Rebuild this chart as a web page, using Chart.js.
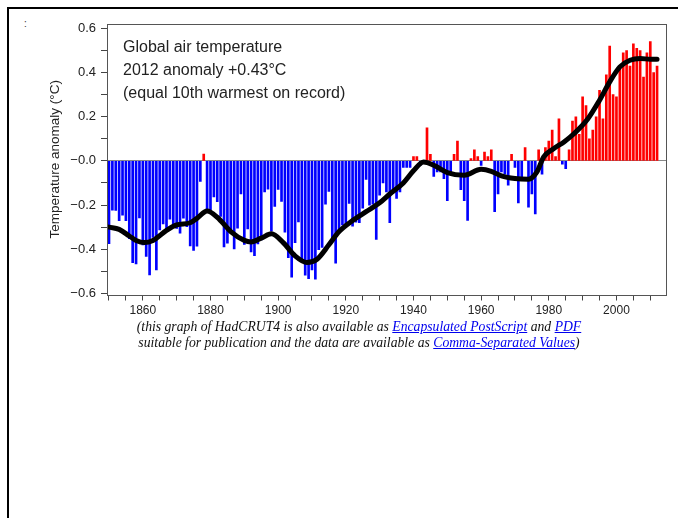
<!DOCTYPE html>
<html>
<head>
<meta charset="utf-8">
<script src="https://cdn.jsdelivr.net/npm/chart.js@4.4.0/dist/chart.umd.min.js"></script>
<style>
  body { margin: 0; background: #fff; width: 678px; height: 518px; position: relative; overflow: hidden; }
  .frame { position: absolute; left: 7px; top: 7px; right: -10px; bottom: -10px; border-top: 2px solid #000; border-left: 2px solid #000; }
  .colon { position: absolute; left: 24px; top: 18px; font: 10px "Liberation Sans", Arial, sans-serif; color: #333; }
  #chart { position: absolute; left: 0; top: 0; }
  .caption { position: absolute; left: 108px; width: 502px; top: 319px; text-align: center;
    font: italic 13.7px/16px "Liberation Serif", "Times New Roman", serif; color: #111; }
  .caption a { color: #0000ee; text-decoration: underline; }
</style>
</head>
<body>
<div class="frame"></div>
<div class="colon">:</div>
<canvas id="chart" width="678" height="320"></canvas>
<div class="caption">(this graph of HadCRUT4 is also available as <a href="#">Encapsulated PostScript</a> and <a href="#">PDF</a><br>suitable for publication and the data are available as <a href="#">Comma-Separated Values</a>)</div>
<script>
// annual anomalies 1850..2012 (degC, vs 1961-90)
const firstYear = 1850;
const anomalies = [
  -0.375, -0.223, -0.224, -0.271, -0.246, -0.271, -0.352, -0.461, -0.466, -0.258,
  -0.380, -0.433, -0.516, -0.346, -0.494, -0.313, -0.285, -0.320, -0.264, -0.290,
  -0.306, -0.327, -0.259, -0.298, -0.385, -0.405, -0.386, -0.093, 0.031, -0.224,
  -0.235, -0.163, -0.185, -0.251, -0.390, -0.372, -0.317, -0.399, -0.305, -0.149,
  -0.378, -0.308, -0.412, -0.429, -0.376, -0.358, -0.141, -0.128, -0.318, -0.206,
  -0.129, -0.183, -0.323, -0.438, -0.527, -0.370, -0.276, -0.451, -0.517, -0.533,
  -0.494, -0.536, -0.402, -0.392, -0.196, -0.138, -0.361, -0.463, -0.326, -0.290,
  -0.285, -0.193, -0.296, -0.278, -0.280, -0.214, -0.084, -0.200, -0.196, -0.355,
  -0.155, -0.100, -0.140, -0.280, -0.130, -0.170, -0.140, -0.030, -0.030, -0.030,
  0.020, 0.020, -0.020, -0.010, 0.150, 0.030, -0.070, -0.050, -0.050, -0.080,
  -0.180, -0.060, 0.030, 0.090, -0.130, -0.180, -0.270, 0.010, 0.050, 0.020,
  -0.020, 0.040, 0.020, 0.050, -0.230, -0.150, -0.050, -0.060, -0.110, 0.030,
  -0.030, -0.190, -0.080, 0.060, -0.210, -0.150, -0.240, 0.050, -0.060, 0.060,
  0.090, 0.140, 0.020, 0.190, -0.015, -0.035, 0.050, 0.180, 0.200, 0.120,
  0.290, 0.250, 0.100, 0.140, 0.200, 0.320, 0.190, 0.390, 0.520, 0.300,
  0.290, 0.430, 0.490, 0.500, 0.430, 0.530, 0.510, 0.500, 0.380, 0.490,
  0.540, 0.400, 0.430
];

// smoothed curve
const smoothYears = [1850, 1853, 1856, 1858, 1860.5, 1863, 1867, 1870, 1874, 1876, 1879, 1882, 1886, 1890,
  1892, 1895, 1898, 1901.5, 1905, 1908.5, 1911.5, 1915, 1918, 1922, 1926, 1930, 1933, 1937, 1940, 1943,
  1946, 1950, 1955, 1960, 1963, 1966, 1970, 1974, 1976.5, 1978.5, 1981.5, 1984.5, 1987.5, 1991.5, 1995,
  1998, 2001, 2004, 2007, 2010, 2012];
const smoothValues = [-0.30, -0.31, -0.34, -0.36, -0.37, -0.36, -0.315, -0.29, -0.28, -0.26, -0.227, -0.255, -0.32, -0.36,
  -0.367, -0.35, -0.33, -0.37, -0.43, -0.46, -0.445, -0.38, -0.32, -0.27, -0.23, -0.19, -0.15, -0.10, -0.045, -0.005,
  -0.02, -0.053, -0.065, -0.038, -0.047, -0.068, -0.08, -0.083, -0.05, 0.018, 0.056, 0.086, 0.124, 0.19, 0.275,
  0.358, 0.426, 0.456, 0.464, 0.46, 0.46];

const yTicks = { min: -0.605, max: 0.62, step: 0.1 };
const xTicks = { min: 1849.41, max: 2014.94, step: 5 };
const noteLines = ['Global air temperature', '2012 anomaly +0.43\u00b0C', '(equal 10th warmest on record)'];

const barPoints = anomalies.map((v, i) => ({ x: firstYear + i, y: v }));
const linePoints = smoothYears.map((yr, i) => ({ x: yr, y: smoothValues[i] }));

const sans = '"Liberation Sans", Arial, Helvetica, sans-serif';

const framePlugin = {
  id: 'frameAndNote',
  afterDatasetsDraw(chart) {
    const { ctx, chartArea: a } = chart;
    ctx.save();
    ctx.strokeStyle = '#555';
    ctx.lineWidth = 1;
    ctx.strokeRect(Math.round(a.left) + 0.5, Math.round(a.top) + 0.5,
      Math.round(a.right - a.left) - 1, Math.round(a.bottom - a.top));
    ctx.fillStyle = '#222';
    ctx.font = '16px ' + sans;
    ctx.textBaseline = 'alphabetic';
    noteLines.forEach((t, i) => ctx.fillText(t, 123, 52 + i * 23));
    ctx.restore();
  }
};

new Chart(document.getElementById('chart'), {
  type: 'bar',
  data: {
    datasets: [{
      type: 'line',
      data: linePoints,
      borderColor: '#000',
      borderWidth: 5,
      pointRadius: 0,
      cubicInterpolationMode: 'monotone',
      borderCapStyle: 'round',
      borderJoinStyle: 'round',
      order: 0
    }, {
      type: 'bar',
      data: barPoints,
      backgroundColor: barPoints.map(p => p.y > 0 ? '#ff0000' : '#0000ff'),
      barThickness: 2,
      order: 1
    }]
  },
  options: {
    responsive: false,
    animation: false,
    devicePixelRatio: 1,
    layout: { padding: { left: 0, top: 24, right: 11, bottom: 0 } },
    plugins: { legend: { display: false }, tooltip: { enabled: false } },
    scales: {
      x: {
        type: 'linear',
        offset: false,
        min: xTicks.min,
        max: xTicks.max,
        afterFit(s) { s.height = 25.5; },
        border: { display: false },
        grid: { offset: false, drawOnChartArea: false, tickLength: 6, color: '#444', lineWidth: 1 },
        ticks: {
          stepSize: xTicks.step,
          includeBounds: false,
          autoSkip: false,
          maxRotation: 0,
          padding: 3,
          color: '#222',
          font: { family: sans, size: 12 },
          callback: v => Math.round(v) % 20 === 0 ? String(Math.round(v)) : ''
        }
      },
      y: {
        min: yTicks.min,
        max: yTicks.max,
        afterFit(s) { s.width = 107; },
        border: { display: false },
        grid: {
          drawOnChartArea: true,
          tickLength: 6,
          color: c => Math.abs(c.tick.value) < 1e-9 ? '#888' : 'rgba(0,0,0,0)',
          tickColor: '#444'
        },
        title: {
          display: true,
          text: 'Temperature anomaly (\u00b0C)',
          color: '#222',
          font: { family: sans, size: 13.5 },
          padding: { top: 47, bottom: 0 }
        },
        ticks: {
          stepSize: yTicks.step,
          includeBounds: false,
          autoSkip: false,
          padding: 5,
          color: '#222',
          font: { family: sans, size: 13 },
          callback: v => {
            const t = Math.round(v * 10);
            if (t % 2 !== 0) return '';
            if (t === 0) return '\u22120.0';
            return (t < 0 ? '\u2212' : '') + Math.abs(v).toFixed(1);
          }
        }
      }
    }
  },
  plugins: [framePlugin]
});
</script>
</body>
</html>
